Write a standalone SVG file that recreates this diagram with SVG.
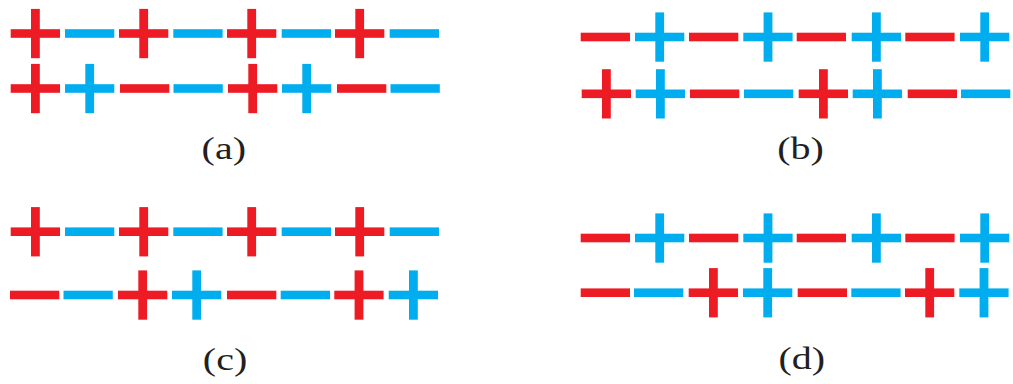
<svg xmlns="http://www.w3.org/2000/svg" xmlns:xlink="http://www.w3.org/1999/xlink" width="1013" height="384" viewBox="0 0 1013 384">
  <style>
    .r { fill: #ED1C24; }
    .b { fill: #00AEEF; }
    .lbl { font-family: "Liberation Serif", "Times New Roman", serif; font-size: 32px; fill: #231F20; text-anchor: middle; }
  </style>
  <defs>
    <g id="p">
      <rect x="0" y="-4.3" width="49.3" height="8.6"/>
      <rect x="20.3" y="-24.6" width="8.8" height="49.3"/>
    </g>
    <g id="m">
      <rect x="0" y="-4.3" width="49.3" height="8.6"/>
    </g>
  </defs>
  <rect width="1013" height="384" fill="#ffffff"/>

  <g id="panel-a">
    <g id="a-row1">
      <use href="#p" x="10.7" y="33.5" class="r"/>
      <use href="#m" x="65" y="33.5" class="b"/>
      <use href="#p" x="119" y="33.5" class="r"/>
      <use href="#m" x="173.3" y="33.5" class="b"/>
      <use href="#p" x="227" y="33.5" class="r"/>
      <use href="#m" x="281.7" y="33.5" class="b"/>
      <use href="#p" x="335" y="33.5" class="r"/>
      <use href="#m" x="389.7" y="33.5" class="b"/>
    </g>
    <g id="a-row2">
      <use href="#p" x="10.7" y="88.5" class="r"/>
      <use href="#p" x="65" y="88.5" class="b"/>
      <use href="#m" x="120" y="88.5" class="r"/>
      <use href="#m" x="173.5" y="88.5" class="b"/>
      <use href="#p" x="228" y="88.5" class="r"/>
      <use href="#p" x="282" y="88.5" class="b"/>
      <use href="#m" x="337" y="88.5" class="r"/>
      <use href="#m" x="390.5" y="88.5" class="b"/>
    </g>
    <text class="lbl" transform="translate(223.8,158.5) scale(1.25,1)">(a)</text>
  </g>

  <g id="panel-b">
    <g id="b-row1">
      <use href="#m" x="580.7" y="37" class="r"/>
      <use href="#p" x="635" y="37" class="b"/>
      <use href="#m" x="689" y="37" class="r"/>
      <use href="#p" x="743.3" y="37" class="b"/>
      <use href="#m" x="796.7" y="37" class="r"/>
      <use href="#p" x="851.7" y="37" class="b"/>
      <use href="#m" x="905.3" y="37" class="r"/>
      <use href="#p" x="960" y="37" class="b"/>
    </g>
    <g id="b-row2">
      <use href="#p" x="581.7" y="93.8" class="r"/>
      <use href="#p" x="635.7" y="93.8" class="b"/>
      <use href="#m" x="690" y="93.8" class="r"/>
      <use href="#m" x="744" y="93.8" class="b"/>
      <use href="#p" x="798.7" y="93.8" class="r"/>
      <use href="#p" x="852.7" y="93.8" class="b"/>
      <use href="#m" x="907.7" y="93.8" class="r"/>
      <use href="#m" x="961" y="93.8" class="b"/>
    </g>
    <text class="lbl" transform="translate(800.5,158.5) scale(1.25,1)">(b)</text>
  </g>

  <g id="panel-c">
    <g id="c-row1">
      <use href="#p" x="10.7" y="231.7" class="r"/>
      <use href="#m" x="65" y="231.7" class="b"/>
      <use href="#p" x="119" y="231.7" class="r"/>
      <use href="#m" x="173.3" y="231.7" class="b"/>
      <use href="#p" x="227" y="231.7" class="r"/>
      <use href="#m" x="281.7" y="231.7" class="b"/>
      <use href="#p" x="335" y="231.7" class="r"/>
      <use href="#m" x="389.7" y="231.7" class="b"/>
    </g>
    <g id="c-row2">
      <use href="#m" x="10" y="295" class="r"/>
      <use href="#m" x="63.5" y="295" class="b"/>
      <use href="#p" x="118" y="295" class="r"/>
      <use href="#p" x="172" y="295" class="b"/>
      <use href="#m" x="227" y="295" class="r"/>
      <use href="#m" x="280.7" y="295" class="b"/>
      <use href="#p" x="334.3" y="295" class="r"/>
      <use href="#p" x="388.7" y="295" class="b"/>
    </g>
    <text class="lbl" transform="translate(225,370) scale(1.25,1)">(c)</text>
  </g>

  <g id="panel-d">
    <g id="d-row1">
      <use href="#m" x="580.7" y="238" class="r"/>
      <use href="#p" x="635" y="238" class="b"/>
      <use href="#m" x="689" y="238" class="r"/>
      <use href="#p" x="743.3" y="238" class="b"/>
      <use href="#m" x="796.7" y="238" class="r"/>
      <use href="#p" x="851.7" y="238" class="b"/>
      <use href="#m" x="905.3" y="238" class="r"/>
      <use href="#p" x="960" y="238" class="b"/>
    </g>
    <g id="d-row2">
      <use href="#m" x="580.7" y="292.7" class="r"/>
      <use href="#m" x="634" y="292.7" class="b"/>
      <use href="#p" x="688.7" y="292.7" class="r"/>
      <use href="#p" x="743" y="292.7" class="b"/>
      <use href="#m" x="797.7" y="292.7" class="r"/>
      <use href="#m" x="851.3" y="292.7" class="b"/>
      <use href="#p" x="905" y="292.7" class="r"/>
      <use href="#p" x="959.3" y="292.7" class="b"/>
    </g>
    <text class="lbl" transform="translate(801.7,368.5) scale(1.25,1)">(d)</text>
  </g>
</svg>
